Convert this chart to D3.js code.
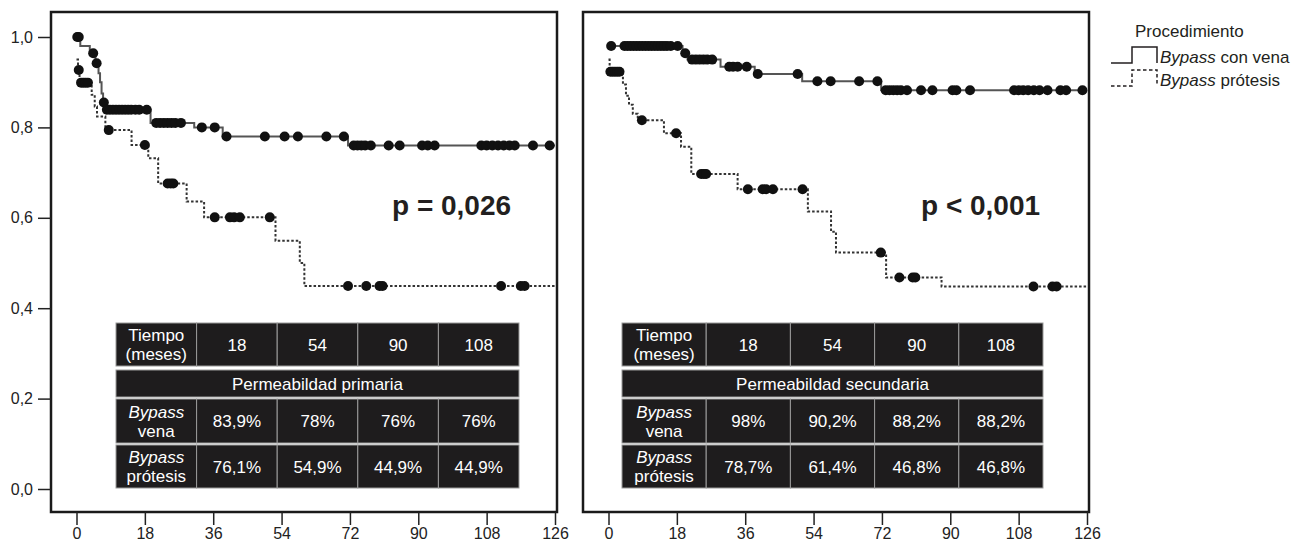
<!DOCTYPE html>
<html>
<head>
<meta charset="utf-8">
<script src="https://cdn.jsdelivr.net/npm/d3@7"></script>
<style>
  body { margin: 0; background: #fff; }
  svg { display: block; font-family: "Liberation Sans", Arial, sans-serif; }
</style>
</head>
<body>
<svg width="1316" height="542"></svg>
<script>
// ---- data ----
var xTicks = [0, 18, 36, 54, 72, 90, 108, 126];
var yTicks = [0, 0.2, 0.4, 0.6, 0.8, 1.0];

// primary patency, vein bypass (step times / survival after step)
var primVenaT = [0, 1, 3.5, 5, 5.8, 6.2, 6.6, 7.0, 7.5, 19.5, 31, 38.5, 71.5];
var primVenaS = [1.0, 0.98, 0.964, 0.942, 0.92, 0.90, 0.875, 0.855, 0.839, 0.81, 0.80, 0.78, 0.76];
var primVenaCens = [0.2, 0.6, 4.4, 5.3, 7.2, 8, 8.8, 9.6, 10.4, 11.2, 12, 12.8, 13.6, 14.4, 15.5, 16.5, 18.5,
  21, 22, 23, 24, 25, 26, 27.5, 33, 36.4, 39.5, 49.6, 54.8, 58.3, 65.8, 70.4,
  73, 74, 75, 76, 77.5, 82.2, 85.1, 91, 92.5, 94.3, 106.6, 108, 109.5, 111, 112.5, 114, 115.4, 120.2, 124.6];

// primary patency, prosthetic bypass
var primProtT = [0, 0.4, 0.8, 4, 4.8, 5.4, 7.6, 14.5, 18.9, 21.5, 29, 33.6, 52.4, 58.8, 60];
var primProtS = [0.95, 0.927, 0.899, 0.872, 0.846, 0.824, 0.794, 0.761, 0.732, 0.676, 0.636, 0.601, 0.549, 0.50, 0.449];
var primProtCens = [0.6, 1.2, 1.8, 2.4, 3.0, 8.5, 18, 24, 24.8, 25.5, 36.4, 40.4, 41.5, 43, 50.9,
  71.5, 76.3, 79.8, 80.6, 111.8, 117, 118];

// secondary patency, vein bypass
var secVenaT = [0, 19.5, 20.8, 29.5, 38.5, 51, 71.8];
var secVenaS = [0.98, 0.964, 0.95, 0.934, 0.918, 0.902, 0.882];
var secVenaCens = [0.7, 4.2, 5, 5.8, 6.6, 7.4, 8.2, 9, 9.8, 10.6, 11.4, 12.2, 13, 13.8, 14.6, 15.4, 16.4, 18.2,
  20.2, 22, 23, 24, 25, 26, 27.3, 31.8, 32.8, 34, 36.4, 39.3, 49.8, 55, 58.5, 66, 70.8,
  73, 74, 75, 76, 77, 78.6, 82.3, 85.3, 90.6, 91.6, 95.2, 106.8, 108, 109.2, 110.5, 112, 113.5, 115.6, 119, 120.5, 124.8];

// secondary patency, prosthetic bypass
var secProtT = [0, 0.3, 3.8, 4.6, 5.4, 6.4, 7.7, 14.6, 19.1, 21.8, 34, 52.5, 58.6, 59.9, 73.1, 87.7];
var secProtS = [0.95, 0.923, 0.895, 0.87, 0.85, 0.83, 0.816, 0.787, 0.757, 0.697, 0.663, 0.614, 0.569, 0.523, 0.468, 0.448];
var secProtCens = [0.5, 1.1, 1.7, 2.3, 2.9, 8.8, 17.8, 24.4, 25.1, 25.7, 36.7, 40.6, 41.5, 43.3, 51.1,
  71.7, 76.6, 80.1, 80.8, 111.9, 116.9, 118];

// tables
var tableTimes = ["18", "54", "90", "108"];
var primVenaTab = ["83,9%", "78%", "76%", "76%"];
var primProtTab = ["76,1%", "54,9%", "44,9%", "44,9%"];
var secVenaTab = ["98%", "90,2%", "88,2%", "88,2%"];
var secProtTab = ["78,7%", "61,4%", "46,8%", "46,8%"];

var pValues = ["p = 0,026", "p < 0,001"];
var tableTitles = ["Permeabildad primaria", "Permeabildad secundaria"];
var legendTitle = "Procedimiento";
var legendLabels = ["con vena", "prótesis"];

// ---- drawing ----
var svg = d3.select("svg");
svg.append("rect").attr("width", 1316).attr("height", 542).attr("fill", "#fff");

var frameTop = 12, frameBottom = 512;
var y = d3.scaleLinear().domain([0, 1]).range([489, 37]);

var panels = [
  { left: 51, right: 557, yAxis: true, p: pValues[0], pX: 392,
    tab: { x0: 116, x1: 519, title: tableTitles[0], vena: primVenaTab, prot: primProtTab },
    vena: [primVenaT, primVenaS, primVenaCens], prot: [primProtT, primProtS, primProtCens] },
  { left: 583, right: 1089, yAxis: false, p: pValues[1], pX: 921,
    tab: { x0: 622, x1: 1043, title: tableTitles[1], vena: secVenaTab, prot: secProtTab },
    vena: [secVenaT, secVenaS, secVenaCens], prot: [secProtT, secProtS, secProtCens] }
];

function stepValue(ts, ss, t) {
  var i = d3.bisectRight(ts, t) - 1;
  return ss[Math.max(0, i)];
}

panels.forEach(function (pn) {
  var x = d3.scaleLinear().domain([0, 126]).range([pn.left + 25.5, pn.right - 2]);
  var g = svg.append("g");

  var line = d3.line()
    .x(function (d) { return x(d[0]); })
    .y(function (d) { return y(d[1]); })
    .curve(d3.curveStepAfter);

  function curve(data, dashed) {
    var pts = data[0].map(function (t, i) { return [t, data[1][i]]; });
    pts.push([126, data[1][data[1].length - 1]]);
    g.append("path")
      .attr("d", line(pts))
      .attr("fill", "none")
      .attr("stroke", dashed ? "#333" : "#555")
      .attr("stroke-width", 2)
      .attr("stroke-dasharray", dashed ? "2.5,2" : null);
    g.selectAll(null)
      .data(data[2])
      .enter().append("circle")
      .attr("cx", function (t) { return x(t); })
      .attr("cy", function (t) { return y(stepValue(data[0], data[1], t)); })
      .attr("r", 5)
      .attr("fill", "#111");
  }
  curve(pn.prot, true);
  curve(pn.vena, false);

  // table
  var tb = pn.tab;
  var cw = (tb.x1 - tb.x0) / 5;
  var rows = [[323, 366], [370, 397], [399, 443], [445, 488]];
  var tg = g.append("g");
  function cell(x0, w, r, lines, italicFirst) {
    tg.append("rect").attr("x", x0).attr("y", r[0]).attr("width", w).attr("height", r[1] - r[0])
      .attr("fill", "#1e1c1d").attr("stroke", "#9a9a9a").attr("stroke-width", 1);
    var cy = (r[0] + r[1]) / 2;
    lines.forEach(function (s, i) {
      tg.append("text")
        .attr("x", x0 + w / 2)
        .attr("y", cy + (lines.length === 2 ? (i === 0 ? -9.5 : 9.5) : 0))
        .attr("dy", "0.36em")
        .attr("text-anchor", "middle")
        .attr("fill", "#fff")
        .attr("font-size", 17)
        .attr("font-style", italicFirst && i === 0 ? "italic" : "normal")
        .text(s);
    });
  }
  cell(tb.x0, cw, rows[0], ["Tiempo", "(meses)"], false);
  tableTimes.forEach(function (s, i) { cell(tb.x0 + cw * (i + 1), cw, rows[0], [s]); });
  cell(tb.x0, cw * 5, rows[1], [tb.title]);
  cell(tb.x0, cw, rows[2], ["Bypass", "vena"], true);
  tb.vena.forEach(function (s, i) { cell(tb.x0 + cw * (i + 1), cw, rows[2], [s]); });
  cell(tb.x0, cw, rows[3], ["Bypass", "prótesis"], true);
  tb.prot.forEach(function (s, i) { cell(tb.x0 + cw * (i + 1), cw, rows[3], [s]); });

  // p value
  g.append("text").attr("x", pn.pX).attr("y", 215)
    .attr("font-size", 28).attr("font-weight", "bold").attr("fill", "#231f20")
    .text(pn.p);

  // frame
  g.append("rect")
    .attr("x", pn.left).attr("y", frameTop)
    .attr("width", pn.right - pn.left).attr("height", frameBottom - frameTop)
    .attr("fill", "none").attr("stroke", "#1a1a1a").attr("stroke-width", 2.5);

  // axes
  var xa = g.append("g")
    .attr("transform", "translate(0," + frameBottom + ")")
    .call(d3.axisBottom(x).tickValues(xTicks).tickSize(13).tickPadding(3));
  xa.select(".domain").remove();
  xa.selectAll("line").attr("stroke", "#222").attr("stroke-width", 1.5);
  xa.selectAll("text").attr("font-size", 16).attr("fill", "#222")
    .attr("font-family", "Liberation Sans, Arial, sans-serif");

  if (pn.yAxis) {
    var ya = g.append("g")
      .attr("transform", "translate(" + pn.left + ",0)")
      .call(d3.axisLeft(y).tickValues(yTicks).tickSize(13).tickPadding(5)
        .tickFormat(function (d) { return d3.format(".1f")(d).replace(".", ","); }));
    ya.select(".domain").remove();
    ya.selectAll("line").attr("stroke", "#222").attr("stroke-width", 1.5);
    ya.selectAll("text").attr("font-size", 16).attr("fill", "#222")
      .attr("font-family", "Liberation Sans, Arial, sans-serif");
  }
});

// legend
var lg = svg.append("g");
lg.append("text").attr("x", 1135).attr("y", 37).attr("font-size", 17).attr("fill", "#231f20").text(legendTitle);
legendLabels.forEach(function (lab, i) {
  var base = 63 + i * 23;
  lg.append("path")
    .attr("d", "M1111," + base + "H1132V" + (base - 16) + "H1157V" + base)
    .attr("fill", "none")
    .attr("stroke", "#231f20")
    .attr("stroke-width", 1.5)
    .attr("stroke-dasharray", i === 1 ? "3.5,2.5" : null);
  var t = lg.append("text").attr("x", 1160).attr("y", base).attr("font-size", 17).attr("fill", "#231f20");
  t.append("tspan").attr("font-style", "italic").text("Bypass");
  t.append("tspan").text(" " + lab);
});
</script>
</body>
</html>
